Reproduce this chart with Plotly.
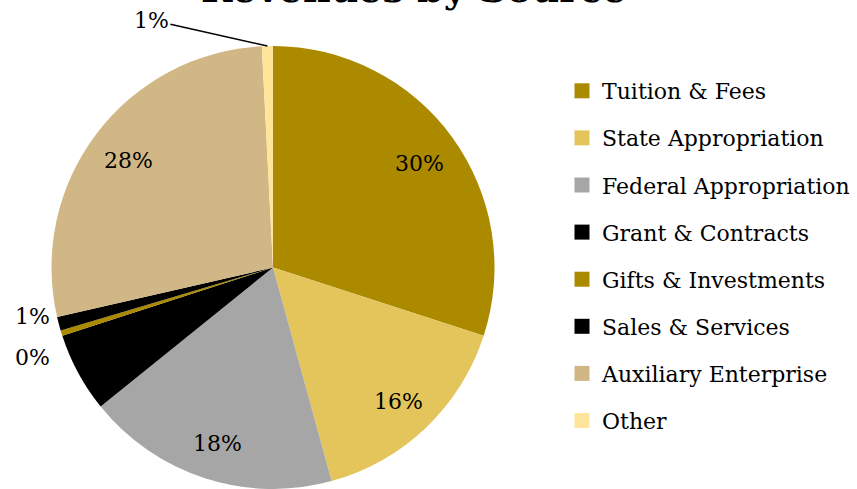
import math
import plotly.graph_objects as go

categories = ["Tuition & Fees", "State Appropriation", "Federal Appropriation",
              "Grant & Contracts", "Gifts & Investments", "Sales & Services",
              "Auxiliary Enterprise", "Other"]
values = [29.9, 15.7, 18.4, 5.8, 0.4, 1.0, 27.7, 0.8]
colors = ["#AB8A00", "#E3C55B", "#A6A6A6", "#000000", "#AB8A00", "#000000", "#D2B786", "#FFE599"]
title_text = "Revenues by Source"

FONT = "DejaVu Serif"
W, H = 857, 489
CX, CY, R = 273, 267.5, 221.5  # pie centre / radius in pixels (layout)

fig = go.Figure()
fig.add_trace(go.Pie(
    labels=categories, values=values, sort=False, direction="clockwise", rotation=0,
    marker=dict(colors=colors, line=dict(width=0)),
    textinfo="none", showlegend=False,
    domain=dict(x=[(CX - R) / W, (CX + R) / W], y=[(H - CY - R) / H, (H - CY + R) / H]),
    hoverinfo="label+percent",
))
for c, col in zip(categories, colors):
    fig.add_trace(go.Scatter(x=[None], y=[None], mode="markers", name=c,
                             marker=dict(symbol="square", size=15, color=col),
                             legendgroup=c, showlegend=True))

total = sum(values)
cum = 0.0
outside = {
    "Gifts & Investments": dict(xshift=-29, yshift=-24, arrow=False),
    "Sales & Services": dict(xshift=-26, yshift=7, arrow=False),
    "Other": dict(ax=-116, ay=-26, arrow=True),
}
lab_font = dict(family=FONT, size=22, color="black")
for c, v in zip(categories, values):
    mid = (cum + v / 2) / total * 2 * math.pi
    cum += v
    pct = f"{round(v / total * 100):.0f}%"
    sx, sy = math.sin(mid), math.cos(mid)
    if c in outside:
        o = outside[c]
        ex, ey = CX + R * sx, CY - R * sy
        if o["arrow"]:
            fig.add_annotation(text=pct, xref="paper", yref="paper", x=ex / W, y=(H - ey) / H,
                               showarrow=True, arrowhead=0, arrowwidth=1.5, arrowcolor="black",
                               ax=o["ax"], ay=o["ay"], standoff=0,
                               xanchor="center", yanchor="middle", font=lab_font)
        else:
            fig.add_annotation(text=pct, xref="paper", yref="paper", x=ex / W, y=(H - ey) / H,
                               showarrow=False, xshift=o["xshift"], yshift=o["yshift"],
                               xanchor="center", yanchor="middle", font=lab_font)
    else:
        rr = 0.82 * R
        px, py = CX + rr * sx, CY - rr * sy
        fig.add_annotation(text=pct, xref="paper", yref="paper", x=px / W, y=(H - py) / H,
                           showarrow=False, xanchor="center", yanchor="middle", yshift=-3,
                           font=lab_font)

fig.add_annotation(text="<b>" + title_text + "</b>", xref="paper", yref="paper",
                   x=414 / W, xanchor="center", y=1, yanchor="bottom", yshift=-13,
                   showarrow=False, font=dict(family=FONT, size=38, color="black"))

fig.update_layout(
    width=W, height=H, margin=dict(l=0, r=0, t=0, b=0),
    paper_bgcolor="white", plot_bgcolor="white",
    xaxis=dict(visible=False), yaxis=dict(visible=False),
    legend=dict(x=562 / W, xanchor="left", y=1 - 70 / H, yanchor="top",
                font=dict(family=FONT, size=22, color="black"), tracegroupgap=15.5,
                bgcolor="rgba(0,0,0,0)"),
)
fig.write_html("out.html", config={"displayModeBar": False},
               post_script="document.body.style.margin='0';")
